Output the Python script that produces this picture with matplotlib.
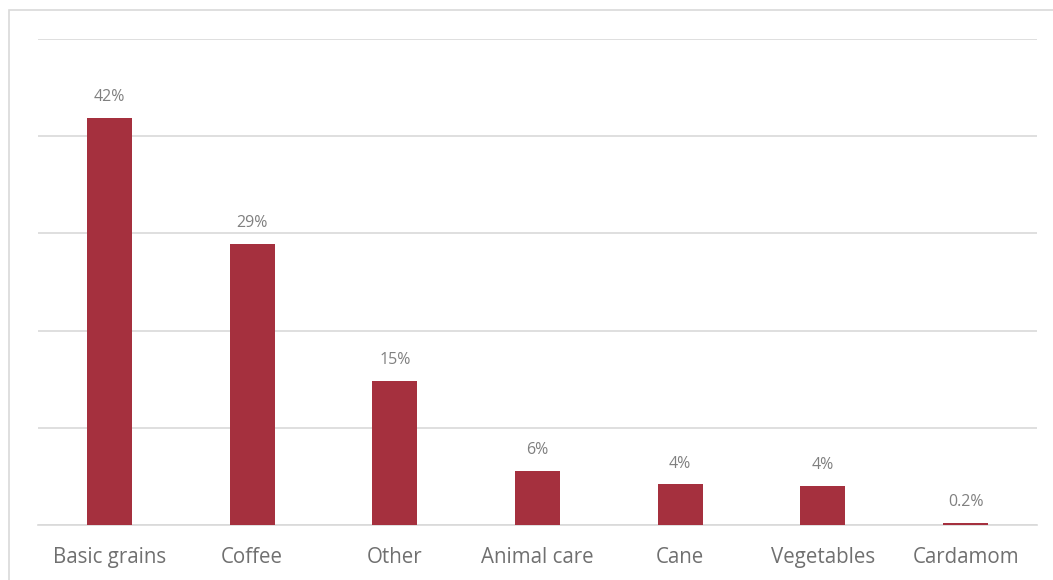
import matplotlib.pyplot as plt
from matplotlib.patches import Rectangle

# Values (percent share)
categories = ['Basic grains', 'Coffee', 'Other', 'Animal care', 'Cane', 'Vegetables', 'Cardamom']
shares = [41.9, 28.9, 14.8, 5.6, 4.2, 4.0, 0.2]
share_labels = ['42%', '29%', '15%', '6%', '4%', '4%', '0.2%']

plt.rcParams['font.family'] = ['Open Sans', 'DejaVu Sans']

fig = plt.figure(figsize=(10.53, 5.8), dpi=100)
ax = fig.add_axes([38 / 1053, 55 / 580, 999 / 1053, 486 / 580])

# outer chart frame
fig.patches.append(Rectangle((9 / 1053, -0.1), 1.2, 1 - 10 / 580 + 0.1,
                             transform=fig.transFigure, fill=False,
                             edgecolor='#d9d9d9', linewidth=1.2))

x = range(len(categories))
bars = ax.bar(x, shares, width=0.315, color='#a5303e', zorder=3)

for bar, lab in zip(bars, share_labels):
    ax.annotate(lab, (bar.get_x() + bar.get_width() / 2, bar.get_height()),
                xytext=(0, 12), textcoords='offset points', ha='center', va='baseline',
                fontsize=11.5, color='#808080')

ax.set_xlim(-0.5, len(categories) - 0.5)
ax.set_ylim(0, 50)
ax.set_yticks(range(0, 51, 10))
ax.yaxis.grid(True, color='#d9d9d9', linewidth=1.2, zorder=0)
ax.tick_params(axis='y', left=False, labelleft=False)
ax.tick_params(axis='x', length=0, pad=16, labelsize=14.8, labelcolor='#707070')
ax.set_xticks(list(x))
ax.set_xticklabels(categories)
for side in ['top', 'right', 'left']:
    ax.spines[side].set_visible(False)
ax.spines['bottom'].set_color('#d9d9d9')
ax.spines['bottom'].set_linewidth(1.2)

fig.savefig('out.png', dpi=100)
